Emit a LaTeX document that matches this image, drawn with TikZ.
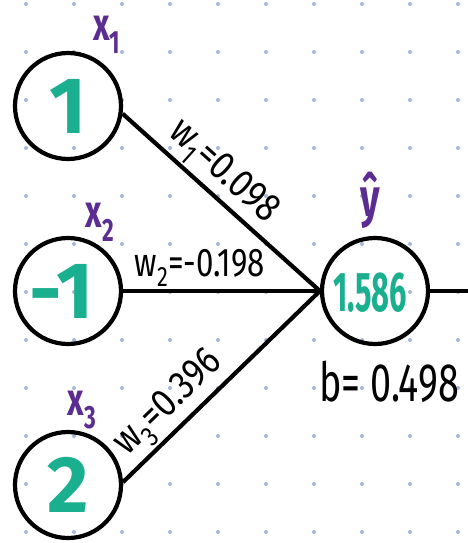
\documentclass[tikz,border=0pt]{standalone}
\usepackage{fontspec}
\usepackage{graphicx}
\setmainfont{Fira Sans}
\newcommand{\nar}[2]{\scalebox{#1}[1]{#2}}
\definecolor{tealg}{HTML}{1AAF8E}
\definecolor{purp}{HTML}{5C2D91}
\definecolor{dotc}{HTML}{A8B7D3}
\begin{document}
\begin{tikzpicture}[x=1pt,y=-1pt,
  neuron/.style={circle,draw=black,line width=4.2pt,minimum size=106pt,inner sep=0pt},
  conn/.style={line width=4.2pt},
  val/.style={text=tealg,font=\bfseries\fontsize{80}{80}\selectfont},
  var/.style={text=purp,font=\bfseries\fontsize{46}{46}\selectfont},
  wlab/.style={font=\fontsize{40}{40}\selectfont,sloped,above,inner sep=2pt}]
\useasboundingbox (0,0) rectangle (468,543);
\fill[white] (0,0) rectangle (468,543);
\foreach \i in {0,...,9} \foreach \j in {0,...,11} \fill[dotc] (26+48*\i,4+48*\j) circle (2pt);
\node[neuron,val] (n1) at (68,106) {1};
\node[neuron,val] (n2) at (68,291) {\hspace{-12pt}-1};
\node[neuron,val] (n3) at (68,485) {2};
\node[neuron] (out) at (375,291) {};
\node[text=tealg,font=\bfseries\fontsize{56}{56}\selectfont] (ov) at (370,293) {\nar{0.55}{1.586}};
\coordinate (end) at (468,291);
\draw[conn] (n1.-8) -- (out.west) node[pos=0.43,wlab] {\nar{0.85}{w\textsubscript{1}=0.098}};
\draw[conn] (n2.east) -- (out.west) node[pos=0.39,wlab] {\nar{0.78}{w\textsubscript{2}=-0.198}};
\draw[conn] (n3.3) -- (out.west) node[pos=0.32,wlab] {\nar{0.85}{w\textsubscript{3}=0.396}};
\draw[conn] (out.east) -- (end);
\node[var] (x1) at (107,35) {\nar{0.7}{x\textsubscript{1}}};
\node[var] (x2) at (100,222) {\nar{0.7}{x\textsubscript{2}}};
\node[var] (x3) at (82,410) {\nar{0.7}{x\textsubscript{3}}};
\node[var,font=\bfseries\fontsize{54}{54}\selectfont] (yh) at (370,200) {\nar{0.7}{ŷ}};
\node[font=\fontsize{54}{54}\selectfont] (b) at (389,382) {\nar{0.7}{b= 0.498}};
\end{tikzpicture}
\end{document}
